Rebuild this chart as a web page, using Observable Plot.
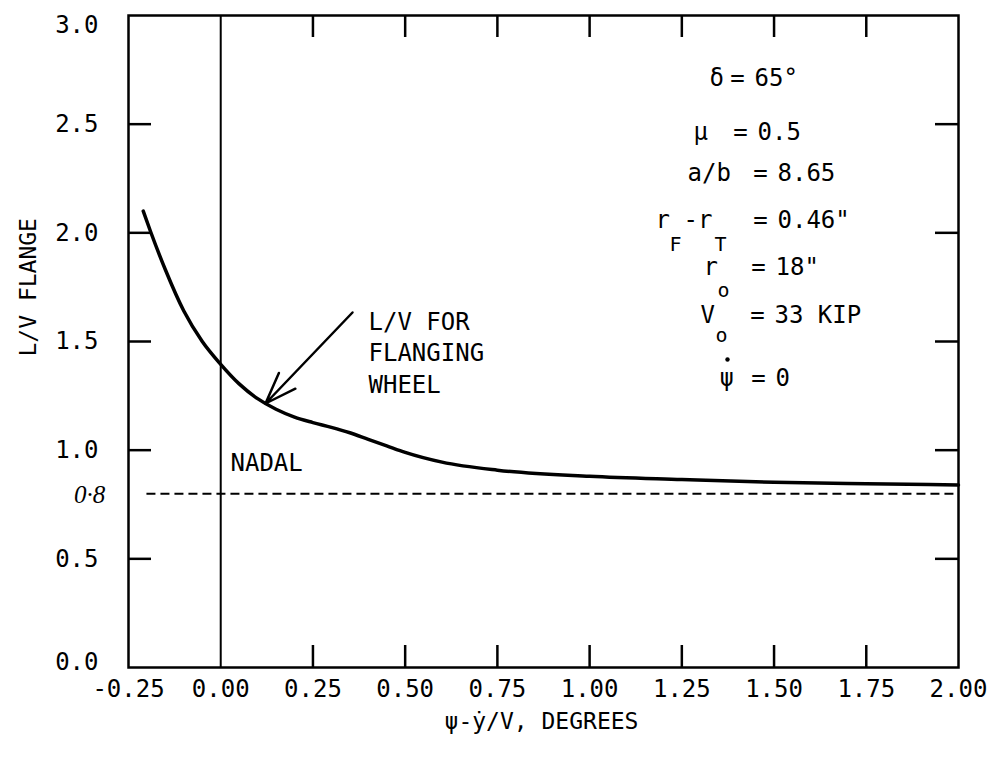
<!DOCTYPE html>
<html><head><meta charset="utf-8">
<script src="https://cdn.jsdelivr.net/npm/d3@7"></script>
<script src="https://cdn.jsdelivr.net/npm/@observablehq/plot@0.6"></script>
<style>body{margin:0;background:#fff}</style>
</head><body><div id="chart"></div>
<script>
// ---- data ----
const xValues = [-0.21,-0.19,-0.15,-0.10,-0.05,0.00,0.05,0.10,0.15,0.20,0.25,0.30,0.35,0.40,0.45,0.50,0.60,0.75,1.00,1.25,1.50,1.75,2.00];
const lvFlange = [2.10,2.005,1.83,1.64,1.50,1.395,1.305,1.237,1.188,1.152,1.127,1.105,1.08,1.05,1.02,0.99,0.945,0.908,0.88,0.865,0.852,0.845,0.84];
const xTickLabels = [-0.25,0,0.25,0.5,0.75,1.0,1.25,1.5,1.75,2.0];
const yTickLabels = [0,0.5,1.0,1.5,2.0,2.5,3.0];
const xInnerTicks = [0.25,0.5,0.75,1.0,1.25,1.5,1.75];
const yInnerTicks = [0.5,1.0,1.5,2.0,2.5];
const nadalX = 0;
const limitLV = 0.8;
const limitStart = -0.2;
const paramNames = ["δ","μ","a/b","r","-r","r","V","ψ"];
const paramValues = ["65°","0.5","8.65","0.46\"","18\"","33 KIP","0"];
const subTexts = ["F","T","o","o"];
const curveLabel = "L/V FOR\nFLANGING\nWHEEL";
const xTitle = "ψ-ẏ/V, DEGREES";
const yTitle = "L/V FLANGE";

// ---- layout ----
const W = 989, H = 758, mL = 128, mR = 31, mT = 15, mB = 91;
const pw = W - mL - mR, ph = H - mT - mB;
const px2x = p => -0.25 + (p - mL) / pw * 2.25;
const px2y = p => 3 * (1 - (p - mT) / ph);
const nameStartPx = [[709, 78], [693, 132], [687, 173], [655, 220], [683, 220], [703, 267], [700, 315], [719, 378]];
const eqPx = [737, 740, 760, 760, 758, 757, 758];
const rowPx = [78, 132, 173, 220, 267, 315, 378];
const subPx = [[669, 244], [714, 244], [717, 290], [715, 335]];
const dotPx = [727, 359];

const names = paramNames.map((n, i) => ({name: n, x: px2x(nameStartPx[i][0]), y: px2y(nameStartPx[i][1])}));
const rows = paramValues.map((v, i) => ({
  value: v, xe: px2x(eqPx[i]), xv: px2x(eqPx[i] + 17), y: px2y(rowPx[i])
}));
const subs = subTexts.map((t, i) => ({t, x: px2x(subPx[i][0]), y: px2y(subPx[i][1])}));
const curve = xValues.map((x, i) => ({x, y: lvFlange[i]}));

const font = "DejaVu Sans Mono";
const fs = 24;

const chart = Plot.plot({
  width: W, height: H,
  marginLeft: mL, marginRight: mR, marginTop: mT, marginBottom: mB,
  style: {fontFamily: font, background: "white", color: "black", overflow: "visible"},
  x: {domain: [-0.25, 2.0]},
  y: {domain: [0, 3]},
  marks: [
    Plot.axisX(xTickLabels, {tickSize: 0, tickPadding: 12, fontSize: fs, tickFormat: d => d.toFixed(2), label: null}),
    Plot.axisY(yTickLabels.filter(d => d > 0 && d < 3), {tickSize: 0, tickPadding: 30, fontSize: fs, tickFormat: d => d.toFixed(1), label: null}),
    Plot.axisY(yTickLabels.filter(d => d === 3), {tickSize: 0, tickPadding: 30, fontSize: fs, dy: 10, tickFormat: d => d.toFixed(1), label: null}),
    Plot.axisY(yTickLabels.filter(d => d === 0), {tickSize: 0, tickPadding: 30, fontSize: fs, dy: -5, tickFormat: d => d.toFixed(1), label: null}),
    Plot.frame({strokeWidth: 2.5}),
    Plot.ruleY(yInnerTicks, {y: d => d, insetRight: pw - 23, strokeWidth: 2.5}),
    Plot.ruleY(yInnerTicks, {y: d => d, insetLeft: pw - 23, strokeWidth: 2.5}),
    Plot.ruleX(xInnerTicks, {x: d => d, insetTop: ph - 22, strokeWidth: 2.5}),
    Plot.ruleX(xInnerTicks, {x: d => d, insetBottom: ph - 22, strokeWidth: 2.5}),
    Plot.ruleX([nadalX], {x: d => d, strokeWidth: 2}),
    Plot.ruleY([limitLV], {y: d => d, x1: limitStart, x2: 2.0, strokeWidth: 2, strokeDasharray: "9,5"}),
    Plot.line(curve, {x: "x", y: "y", curve: "monotone-x", strokeWidth: 3.5, strokeLinecap: "round"}),
    Plot.arrow([{x1: px2x(352), y1: px2y(312), x2: px2x(265), y2: px2y(403)}],
      {x1: "x1", y1: "y1", x2: "x2", y2: "y2", strokeWidth: 2.5, headLength: 20, headAngle: 40}),
    Plot.text([curveLabel], {x: px2x(368), y: px2y(351), text: d => d, textAnchor: "start", lineHeight: 1.3, fontSize: fs}),
    Plot.text(["NADAL"], {x: px2x(230), y: px2y(463), text: d => d, textAnchor: "start", fontSize: fs}),
    Plot.text(["0·8"], {x: px2x(89), y: px2y(494), text: d => d, fontSize: 25, fontStyle: "italic", fontFamily: "Liberation Serif"}),
    Plot.text(names, {x: "x", y: "y", text: "name", textAnchor: "start", fontSize: fs}),
    Plot.text(rows, {x: "xe", y: "y", text: () => "=", fontSize: fs}),
    Plot.text(rows, {x: "xv", y: "y", text: "value", textAnchor: "start", fontSize: fs}),
    Plot.text(subs, {x: "x", y: "y", text: "t", textAnchor: "start", fontSize: 20}),
    Plot.dot([dotPx], {x: d => px2x(d[0]), y: d => px2y(d[1]), r: 2.2, fill: "black", stroke: null}),
    Plot.text([yTitle], {frameAnchor: "left", dx: -100, dy: 15, rotate: -90, text: d => d, fontSize: 23}),
    Plot.text([xTitle], {frameAnchor: "bottom", dx: -2, dy: 61, text: d => d, fontSize: 23})
  ]
});
document.getElementById("chart").appendChild(chart);
</script>
</body></html>
